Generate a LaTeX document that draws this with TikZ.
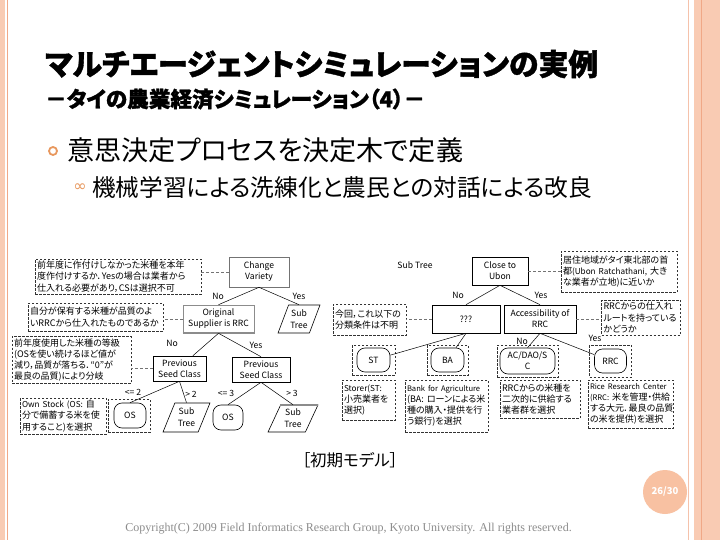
\documentclass[tikz,border=0pt]{standalone}
\usepackage{fontspec}
\usepackage{graphicx}
\setmainfont{Liberation Serif}
\newfontfamily\jp[RawFeature=+palt]{Noto Sans CJK JP}
\newfontfamily\jpheavy[RawFeature=+palt, BoldFeatures={FakeBold=1.2}]{Noto Sans CJK JP}
\newfontfamily\dejavu{DejaVu Sans}
\usetikzlibrary{shapes.geometric,calc}
\definecolor{peach}{HTML}{F9CBB3}
\definecolor{peachd}{HTML}{F0A887}
\definecolor{circc}{HTML}{F8C1A2}
\definecolor{bulletc}{HTML}{E8985E}
\definecolor{copyc}{HTML}{8C8C8C}
\newcommand\smallln[1]{{\fontsize{7.6}{11.2}\selectfont #1}}
\newcommand\ltn[1]{{\fontsize{8.2}{11.2}\selectfont #1}}
\begin{document}
\begin{tikzpicture}[x=1pt,y=-1pt,
  tbox/.style={draw=black, line width=0.6pt, fill=white, align=center, inner sep=0pt, font=\jp\fontsize{8.6}{11}\selectfont},
  rnd/.style={draw=black, line width=0.6pt, rounded corners=8pt, fill=white, align=center, inner sep=0pt, font=\jp\fontsize{8.6}{11}\selectfont},
  ptree/.style={trapezium, trapezium left angle=65, trapezium right angle=115, trapezium stretches=true, draw=black, line width=0.6pt, fill=white, align=center, inner sep=0pt, font=\jp\fontsize{8.6}{12}\selectfont},
  note/.style={draw=black!80, dash pattern=on 2.5pt off 1.5pt, line width=0.6pt, align=left, inner sep=2pt, font=\jp\fontsize{9}{11.2}\selectfont},
  obox/.style={draw=black!80, dash pattern=on 2.5pt off 1.5pt, line width=0.6pt},
  lab/.style={inner sep=0pt, font=\jp\fontsize{8.6}{10}\selectfont},
  edge/.style={draw=black, line width=0.5pt},
  dcon/.style={draw=black!55, dash pattern=on 3pt off 2pt, line width=1pt}
]
\useasboundingbox (0,0) rectangle (720,540);
\fill[white] (0,0) rectangle (720,540);
% slide borders
\fill[peach] (0,0) rectangle (5,540);
\draw[peachd, line width=0.8pt] (7.5,0) -- (7.5,540);
\draw[peachd!70, line width=1pt] (688,0) -- (688,540);
\fill[peach] (694,0) rectangle (720,540);
\draw[peachd, line width=1pt] (701,0) -- (701,540);

% titles
\node[anchor=west, inner sep=0pt, font=\jpheavy\bfseries\fontsize{30}{32}\selectfont] (title) at (45,64) {\resizebox{553pt}{!}{マルチエージェントシミュレーションの実例}};
\node[anchor=west, inner sep=0pt, font=\jpheavy\bfseries\fontsize{19.5}{22}\selectfont] (subtitle) at (45,99) {\resizebox{380pt}{!}{－タイの農業経済シミュレーション（4）－}};
\draw[bulletc, line width=1.8pt] (53,151) circle (4);
\node[anchor=west, inner sep=0pt, font=\jp\fontsize{26}{28}\selectfont] (b1) at (67,150) {\resizebox{396pt}{!}{意思決定プロセスを決定木で定義}};
\node[inner sep=0pt, text=bulletc, font=\dejavu\fontsize{16}{16}\selectfont] (b2s) at (80,188) {∞};
\node[anchor=west, inner sep=0pt, font=\jp\fontsize{22.7}{24}\selectfont] (b2) at (92,187) {\resizebox{500pt}{!}{機械学習による洗練化と農民との対話による改良}};

% outer dashed boxes
\node[obox, minimum width=42pt, minimum height=33pt] (oslo) at (129,415.5) {};
\node[obox, minimum width=43pt, minimum height=30pt] (sto) at (373.5,360) {};
\node[obox, minimum width=41pt, minimum height=30pt] (bao) at (447.5,360) {};
\node[obox, minimum width=61pt, minimum height=32pt] (aco) at (527.5,361) {};
\node[obox, minimum width=42pt, minimum height=32pt] (rrco) at (610.5,361) {};

% tree nodes
\node[tbox, draw=black!55, minimum width=60pt, minimum height=30pt] (cv) at (259,272) {Change\\Variety};
\node[tbox, draw=black!45, minimum width=71pt, minimum height=28pt] (osu) at (218.5,319) {Original\\Supplier is RRC};
\node[ptree, minimum width=42pt, minimum height=28pt] (sta) at (299,319) {Sub\\Tree};
\node[tbox, minimum width=53pt, minimum height=25pt] (pvl) at (179.5,368.5) {Previous\\Seed Class};
\node[tbox, minimum width=58pt, minimum height=25pt] (pvr) at (261,369.5) {Previous\\Seed Class};
\node[rnd, minimum width=32pt, minimum height=25pt] (osl) at (130,415.5) {OS};
\node[ptree, minimum width=47pt, minimum height=29pt] (stb) at (186.5,417.5) {Sub\\Tree};
\node[rnd, minimum width=30pt, minimum height=25pt] (osr) at (228,417.5) {OS};
\node[ptree, minimum width=50pt, minimum height=27pt] (stc) at (293,418.5) {Sub\\Tree};
\node[tbox, minimum width=56pt, minimum height=28pt] (ctu) at (500,271) {Close to\\Ubon};
\node[tbox, minimum width=68pt, minimum height=28pt] (qq) at (466,319) {???};
\node[tbox, minimum width=72pt, minimum height=28pt] (acc) at (540,319) {Accessibility of\\RRC};
\node[rnd, minimum width=33pt, minimum height=24pt] (st) at (373.5,360) {ST};
\node[rnd, minimum width=33pt, minimum height=24pt] (ba) at (447.5,360) {BA};
\node[rnd, minimum width=55pt, minimum height=26pt] (ac) at (527.5,361) {AC/DAO/S\\C};
\node[rnd, minimum width=32pt, minimum height=24pt] (rrc) at (610.5,361) {RRC};

\draw[black!45, line width=2.2pt] (osu.south west) -- (osu.south east);
\draw[black!45, line width=2.2pt] (stc.top left corner) -- (stc.top right corner);

\node[lab] (sublab) at (415,265) {Sub Tree};

% notes
\node[note, minimum width=166pt, minimum height=35pt, text width=162pt] (n1) at (118,276.5) {前年度に作付けしなかった米種を本年\\度作付けするか．Yesの場合は業者から\\仕入れる必要があり，CSは選択不可};
\node[note, minimum width=73pt, minimum height=31pt, text width=69pt] (n2) at (369.5,319.5) {今回，これ以下の\\分類条件は不明};
\node[note, minimum width=116pt, minimum height=41pt, text width=112pt] (n3) at (619,271.5) {居住地域がタイ東北部の首\\都\ltn{(Ubon~Ratchathani,~}大き\\な業者が立地)に近いか};
\node[note, minimum width=79pt, minimum height=35pt, text width=75pt] (n4) at (641,317.5) {RRCからの仕入れ\\ルートを持っている\\かどうか};
\node[note, minimum width=135pt, minimum height=28pt, text width=131pt] (n5) at (95.5,317) {自分が保有する米種が品質のよ\\いRRCから仕入れたものであるか};
\node[note, minimum width=119pt, minimum height=44pt, text width=115pt] (n10) at (71.5,360) {前年度使用した米種の等級\\(OSを使い続けるほど値が\\減り，品質が落ちる．“0”が\\最良の品質)により分岐};
\node[note, minimum width=86pt, minimum height=36pt, text width=82pt] (n11) at (63,416) {\ltn{Own~Stock~(OS:~}自\\分で備蓄する米を使\\用すること)を選択};
\node[note, minimum width=53pt, minimum height=40pt, text width=49pt] (n6) at (368.5,400) {\ltn{Storer(ST:}\\小売業者を\\選択)};
\node[note, minimum width=83pt, minimum height=52pt, text width=79pt] (n7) at (446.5,406) {\smallln{Bank~for~Agriculture}\\(BA:~ローンによる米\\種の購入・提供を行\\う銀行)を選択};
\node[note, minimum width=85pt, minimum height=48pt, text width=81pt] (n9) at (630.5,404) {\smallln{Rice~Research~Center}\\\smallln{(RRC:~}米を管理・供給\\する大元．最良の品質\\の米を提供)を選択};
\node[note, minimum width=80pt, minimum height=38pt, text width=76pt] (n8) at (540,399) {RRCからの米種を\\二次的に供給する\\業者群を選択};

% dashed note connectors
\draw[dcon] (cv.west) -- (cv.west -| n1.east);
\draw[dcon] (osu.west) -- (osu.west -| n5.east);
\draw[dcon] (pvl.west) -- (pvl.west -| n10.east);
\draw[dcon] (qq.west) -- (qq.west -| n2.east);
\draw[dcon] (ctu.east) -- (ctu.east -| n3.west);
\draw[dcon] (acc.east) -- (acc.east -| n4.west);

% tree edges
\draw[edge] (cv.south) -- (osu.north);
\draw[edge] (cv.south) -- (sta.north);
\draw[edge] (osu.south) -- ($(pvl.north)!0.5!(pvl.north east)$);
\draw[edge] (osu.south) -- (pvr.north);
\draw[edge] (pvl.south) -- (osl.north);
\draw[edge] (pvl.south) -- (stb.north);
\draw[edge] (pvr.south) -- (osr.north);
\draw[edge] (pvr.south) -- (stc.north);
\draw[edge] (ctu.south) -- (qq.north);
\draw[edge] (ctu.south) -- (acc.north);
\draw[edge] (qq.south) -- (st);
\draw[edge] (qq.south) -- (ba);
\draw[edge] (acc.south) -- (ac.north);
\draw[edge] (acc.south) -- (rrc);

% edge labels
\node[lab] (y1) at (218,296) {No};
\node[lab] (y2) at (299,296) {Yes};
\node[lab] (y3) at (172,343) {No};
\node[lab] (y4) at (256,345) {Yes};
\node[lab] (y5) at (133,392) {<= 2};
\node[lab] (y6) at (191,394) {> 2};
\node[lab] (y7) at (226,393) {<= 3};
\node[lab] (y8) at (292,393) {> 3};
\node[lab] (y9) at (458,295) {No};
\node[lab] (y10) at (541,295) {Yes};
\node[lab] (y11) at (522,341) {No};
\node[lab] (y12) at (595,338) {Yes};

% caption, page number, copyright
\node[inner sep=0pt, font=\jp\fontsize{16.5}{18}\selectfont] (cap) at (350,460) {［初期モデル］};
\fill[circc] (665,492) circle (22);
\node[inner sep=0pt, text=white, font=\jp\bfseries\fontsize{9.5}{10}\selectfont] (pg) at (665,492) {26/30};
\node[inner sep=0pt, text=copyc, font=\fontsize{12}{13}\selectfont] (copy) at (348.5,529) {Copyright(C) 2009 Field Informatics Research Group, Kyoto University. All rights reserved.};
\end{tikzpicture}
\end{document}
